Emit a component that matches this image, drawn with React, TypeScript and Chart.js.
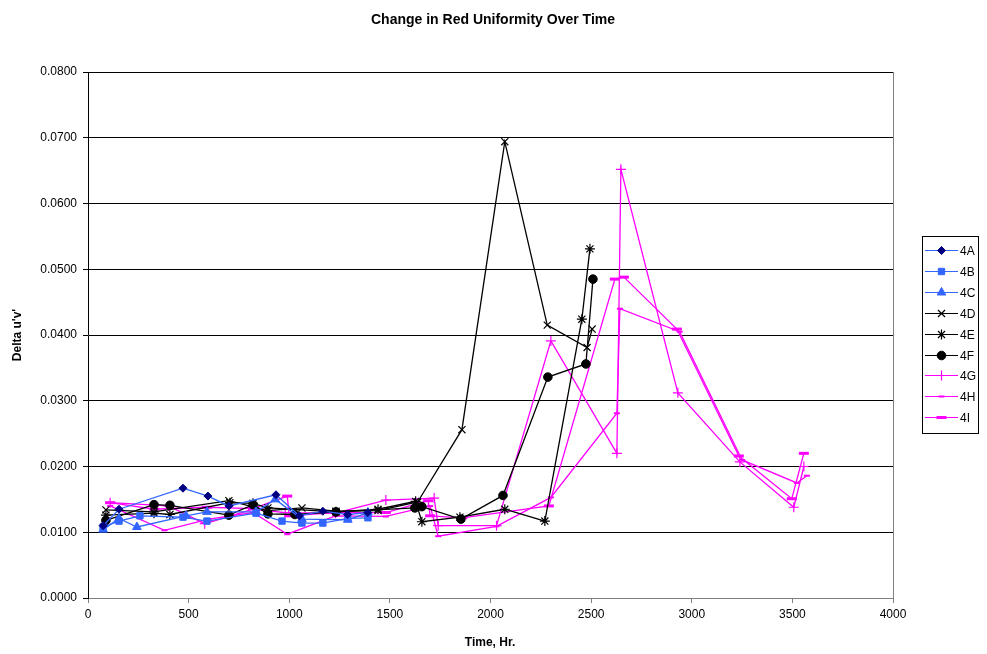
import React, { useEffect, useRef } from "react";
import { Chart, registerables } from "chart.js";
import { drawPoint } from "chart.js/helpers";

Chart.register(...registerables);

const seriesNames = ["4A", "4B", "4C", "4D", "4E", "4F", "4G", "4H", "4I"];

const t4A = [75, 154, 472, 596, 700, 934, 1050, 1167, 1290, 1390];
const v4A = [0.0110, 0.0135, 0.0167, 0.0155, 0.0140, 0.0157, 0.0125, 0.0132, 0.0127, 0.0130];

const t4B = [75, 154, 258, 472, 591, 835, 964, 1063, 1167, 1291, 1391];
const v4B = [0.0108, 0.0117, 0.0125, 0.0123, 0.0117, 0.0129, 0.0117, 0.0114, 0.0114, 0.0121, 0.0122];

const t4C = [75, 154, 243, 487, 591, 835, 930, 1063, 1291, 1391];
const v4C = [0.0104, 0.0121, 0.0108, 0.0125, 0.0131, 0.0131, 0.0150, 0.0120, 0.0119, 0.0130];

const t4D = [89, 328, 700, 894, 1063, 1232, 1441, 1638, 1858, 2071, 2282, 2480, 2505];
const v4D = [0.0134, 0.0131, 0.0148, 0.0133, 0.0137, 0.0132, 0.0133, 0.0146, 0.0256, 0.0694, 0.0415, 0.0381, 0.0409];

const t4E = [89, 328, 407, 705, 820, 894, 1232, 1441, 1628, 1659, 1848, 2071, 2270, 2454, 2494];
const v4E = [0.0126, 0.0129, 0.0127, 0.0145, 0.0144, 0.0137, 0.0131, 0.0135, 0.0147, 0.0116, 0.0123, 0.0135, 0.0117, 0.0424, 0.0531];

const t4F = [89, 328, 407, 700, 820, 894, 1028, 1232, 1624, 1659, 1853, 2062, 2285, 2474, 2509];
const v4F = [0.0118, 0.0142, 0.0141, 0.0126, 0.0142, 0.0128, 0.0127, 0.0131, 0.0137, 0.0139, 0.0120, 0.0156, 0.0336, 0.0356, 0.0485];

const t4G = [110, 400, 580, 820, 980, 1230, 1480, 1720, 1740, 2030, 2300, 2628, 2648, 2931, 3239, 3507, 3557];
const v4G = [0.0145, 0.0140, 0.0113, 0.0135, 0.0130, 0.0129, 0.0149, 0.0152, 0.0110, 0.0110, 0.0391, 0.0220, 0.0652, 0.0312, 0.0207, 0.0138, 0.0200];

const t4H = [110, 380, 600, 820, 990, 1230, 1480, 1700, 1740, 2030, 2300, 2628, 2643, 2940, 3250, 3522, 3572];
const v4H = [0.0140, 0.0103, 0.0120, 0.0130, 0.0097, 0.0125, 0.0124, 0.0140, 0.0094, 0.0109, 0.0153, 0.0281, 0.0440, 0.0405, 0.0210, 0.0175, 0.0186];

const t4I = [110, 330, 590, 820, 990, 1000, 1230, 1480, 1690, 1700, 1860, 2290, 2618, 2663, 2926, 3234, 3497, 3557];
const v4I = [0.0145, 0.0135, 0.0138, 0.0136, 0.0155, 0.0125, 0.0130, 0.0130, 0.0148, 0.0125, 0.0122, 0.0140, 0.0485, 0.0488, 0.0409, 0.0216, 0.0151, 0.0220];

const xTicks = [0, 500, 1000, 1500, 2000, 2500, 3000, 3500, 4000];
const yTicks = [0, 0.01, 0.02, 0.03, 0.04, 0.05, 0.06, 0.07, 0.08];

const BLUE = "rgb(51,102,255)";
const NAVY = "#000080";
const BLACK = "#000000";
const MAGENTA = "#FF00FF";
const FONT = "'Liberation Sans', Arial, sans-serif";

const styles = [
  { line: BLUE, fill: NAVY, border: NAVY, pointStyle: "rectRot", radius: 4, bw: 1 },
  { line: BLUE, fill: BLUE, border: BLUE, pointStyle: "rect", radius: 4.5, bw: 1 },
  { line: BLUE, fill: BLUE, border: BLUE, pointStyle: "triangle", radius: 5, bw: 1 },
  { line: BLACK, fill: BLACK, border: BLACK, pointStyle: "crossRot", radius: 5, bw: 1.2 },
  { line: BLACK, fill: BLACK, border: BLACK, pointStyle: "star", radius: 5, bw: 1.2 },
  { line: BLACK, fill: BLACK, border: BLACK, pointStyle: "circle", radius: 4.3, bw: 1 },
  { line: MAGENTA, fill: MAGENTA, border: MAGENTA, pointStyle: "cross", radius: 5, bw: 1.2 },
  { line: MAGENTA, fill: MAGENTA, border: MAGENTA, pointStyle: "line", radius: 3, bw: 2 },
  { line: MAGENTA, fill: MAGENTA, border: MAGENTA, pointStyle: "line", radius: 5, bw: 3 },
];

const times = [t4A, t4B, t4C, t4D, t4E, t4F, t4G, t4H, t4I];
const vals = [v4A, v4B, v4C, v4D, v4E, v4F, v4G, v4H, v4I];

const decorPlugin = {
  id: "decor",
  afterDraw(chart: any) {
    const ctx = chart.ctx;
    const ca = chart.chartArea;
    ctx.save();
    ctx.strokeStyle = "#808080";
    ctx.lineWidth = 1;
    ctx.beginPath();
    ctx.moveTo(Math.round(ca.right) + 0.5, ca.top);
    ctx.lineTo(Math.round(ca.right) + 0.5, ca.bottom);
    ctx.stroke();

    ctx.fillStyle = "#000";
    ctx.textAlign = "center";
    ctx.textBaseline = "middle";
    ctx.font = `bold 14px ${FONT}`;
    ctx.fillText("Change in Red Uniformity Over Time", 493, 20);
    ctx.font = `bold 12px ${FONT}`;
    ctx.fillText("Time, Hr.", 490, 643);
    ctx.save();
    ctx.translate(18, 335);
    ctx.rotate(-Math.PI / 2);
    ctx.fillText("Delta u'v'", 0, 0);
    ctx.restore();

    const lx = 922, ly = 236, lw = 56, lh = 197;
    ctx.fillStyle = "#fff";
    ctx.fillRect(lx, ly, lw, lh);
    ctx.strokeStyle = "#000";
    ctx.lineWidth = 1;
    ctx.strokeRect(lx + 0.5, ly + 0.5, lw, lh);
    ctx.font = `12px ${FONT}`;
    ctx.textAlign = "left";
    seriesNames.forEach((name, i) => {
      const s = styles[i];
      const y = Math.round(250 + i * 20.9) + 0.5;
      ctx.strokeStyle = s.line;
      ctx.lineWidth = 1;
      ctx.beginPath();
      ctx.moveTo(925, y);
      ctx.lineTo(958, y);
      ctx.stroke();
      ctx.fillStyle = s.fill;
      ctx.strokeStyle = s.border;
      ctx.lineWidth = s.bw;
      drawPoint(ctx, { pointStyle: s.pointStyle, radius: s.radius, rotation: 0, borderWidth: s.bw }, 941.5, y);
      ctx.fillStyle = "#000";
      ctx.fillText(name, 960, y + 1);
    });
    ctx.restore();
  },
};

export default function App() {
  const ref = useRef<HTMLCanvasElement>(null);
  useEffect(() => {
    const canvas = ref.current!;
    const datasets = seriesNames.map((name, i) => ({
      label: name,
      data: times[i].map((t, j) => ({ x: t, y: vals[i][j] })),
      borderColor: styles[i].line,
      backgroundColor: styles[i].fill,
      borderWidth: 1.3,
      pointStyle: styles[i].pointStyle,
      pointRadius: styles[i].radius,
      pointBorderColor: styles[i].border,
      pointBackgroundColor: styles[i].fill,
      pointBorderWidth: styles[i].bw,
      tension: 0,
      fill: false,
    }));
    const chart = new Chart(canvas, {
      type: "line",
      data: { datasets },
      options: {
        animation: false,
        responsive: false,
        layout: { padding: { left: 0, top: 72, right: 94, bottom: 0 } },
        plugins: { legend: { display: false }, title: { display: false }, tooltip: { enabled: false } },
        scales: {
          x: {
            type: "linear",
            min: 0,
            max: 4000,
            afterBuildTicks: (axis: any) => {
              axis.ticks = xTicks.map((v) => ({ value: v }));
            },
            afterFit: (axis: any) => {
              axis.height = 56;
            },
            grid: {
              drawOnChartArea: false,
              drawTicks: true,
              tickLength: 5,
              color: "#808080",
            },
            border: { color: "#808080", width: 1 },
            ticks: {
              color: "#000",
              font: { family: FONT, size: 12 },
              padding: 4,
              maxRotation: 0,
              callback: (v: any) => String(v),
            },
          },
          y: {
            type: "linear",
            min: 0,
            max: 0.08,
            afterBuildTicks: (axis: any) => {
              axis.ticks = yTicks.map((v) => ({ value: v }));
            },
            afterFit: (axis: any) => {
              axis.width = 88;
            },
            grid: {
              color: "#000",
              lineWidth: 1,
              drawTicks: true,
              tickLength: 5,
              tickColor: "#000",
            },
            border: { color: "#000", width: 1 },
            ticks: {
              color: "#000",
              font: { family: FONT, size: 12 },
              padding: 6,
              callback: (v: any) => Number(v).toFixed(4),
            },
          },
        },
      },
      plugins: [decorPlugin],
    } as any);
    return () => chart.destroy();
  }, []);
  return (
    <div style={{ position: "fixed", left: 0, top: 0, width: 987, height: 654, background: "#fff" }}>
      <canvas ref={ref} width={987} height={654} style={{ display: "block" }} />
    </div>
  );
}
